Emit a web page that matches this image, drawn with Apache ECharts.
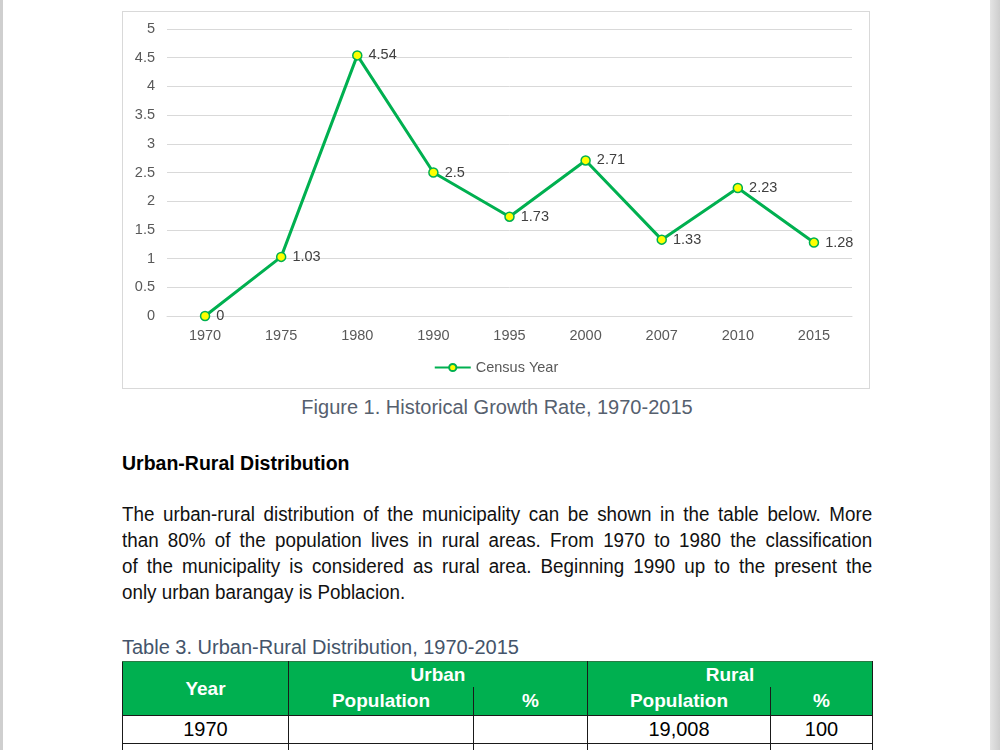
<!DOCTYPE html>
<html>
<head>
<meta charset="utf-8">
<script src="https://cdn.jsdelivr.net/npm/echarts@6/dist/echarts.min.js"></script>
<style>
  html, body { margin: 0; padding: 0; background: #ffffff; }
  body { width: 1000px; height: 750px; position: relative; overflow: hidden; font-family: "Liberation Sans", Arial, sans-serif; }
  .strip-left { position: absolute; left: 0; top: 0; width: 3px; height: 750px; background: #cfcfcf; }
  .strip-right { position: absolute; left: 990px; top: 0; width: 10px; height: 750px; background: linear-gradient(to right, #e4e4e4, #cdcdcd); }
  #box { position: absolute; left: 122px; top: 11px; width: 746px; height: 376px; border: 1px solid #d9d9d9; }
  #chart { position: absolute; left: 0; top: 0; width: 746px; height: 376px; }
  .caption { position: absolute; left: 122px; width: 750px; top: 396px; text-align: center; font-size: 20px; color: #56606e; line-height: 22px; }
  .heading { position: absolute; left: 122px; top: 452px; font-size: 19.5px; font-weight: bold; color: #000; line-height: 22px; }
  .para { position: absolute; left: 122px; top: 501px; width: 798px; font-size: 20px; color: #111; line-height: 26px; transform: scaleX(0.94); transform-origin: left top; }
  .para div { text-align: justify; text-align-last: justify; white-space: nowrap; }
  .para div.last { text-align-last: left; }
  .tcap { position: absolute; left: 122px; top: 636px; font-size: 20px; color: #44546a; line-height: 22px; }
  table { position: absolute; left: 122px; top: 661px; border-collapse: collapse; table-layout: fixed; width: 750px; }
  th, td { padding: 0; text-align: center; font-size: 19px; }
  th { background: #00b050; color: #fff; font-weight: bold; border-left: 1.5px solid #1a1a1a; border-right: 1.5px solid #1a1a1a; }
  td { border: 1.5px solid #1a1a1a; color: #000; height: 27px; font-size: 20px; }
  tr.h1 th { height: 25px; border-top: 1px solid #2a7a45; }
  tr.h2 th { height: 28px; border-bottom: 1.5px solid #1a1a1a; }
  tr.h1 th.grp { border-bottom: none; }
</style>
</head>
<body>
<div class="strip-left"></div>
<div class="strip-right"></div>
<div id="box"><div id="chart"></div></div>
<div class="caption">Figure 1. Historical Growth Rate, 1970-2015</div>
<div class="heading">Urban-Rural Distribution</div>
<div class="para">
  <div>The urban-rural distribution of the municipality can be shown in the table below. More</div>
  <div>than 80% of the population lives in rural areas. From 1970 to 1980 the classification</div>
  <div>of the municipality is considered as rural area. Beginning 1990 up to the present the</div>
  <div class="last">only urban barangay is Poblacion.</div>
</div>
<div class="tcap">Table 3. Urban-Rural Distribution, 1970-2015</div>
<table id="tbl">
  <colgroup><col style="width:166px"><col style="width:185px"><col style="width:114px"><col style="width:183px"><col style="width:102px"></colgroup>
  <tr class="h1"><th rowspan="2" style="border-bottom:1.5px solid #1a1a1a">Year</th><th colspan="2" class="grp">Urban</th><th colspan="2" class="grp">Rural</th></tr>
  <tr class="h2"><th>Population</th><th>%</th><th>Population</th><th>%</th></tr>
</table>
<script>
// Chart data
const years = ['1970', '1975', '1980', '1990', '1995', '2000', '2007', '2010', '2015'];
const growthRate = [0, 1.03, 4.54, 2.5, 1.73, 2.71, 1.33, 2.23, 1.28];
const seriesName = 'Census Year';

// Table data (visible rows)
const tableYears = ['1970', '1975'];
const urbanPop = ['', ''];
const urbanPct = ['', ''];
const ruralPop = ['19,008', '21,005'];
const ruralPct = ['100', '100'];

const tbl = document.getElementById('tbl');
for (let i = 0; i < tableYears.length; i++) {
  const tr = document.createElement('tr');
  [tableYears[i], urbanPop[i], urbanPct[i], ruralPop[i], ruralPct[i]].forEach(v => {
    const td = document.createElement('td');
    td.textContent = v;
    tr.appendChild(td);
  });
  tbl.appendChild(tr);
}

const chart = echarts.init(document.getElementById('chart'), null, { renderer: 'canvas' });
const green = '#00b050';
const txt = '#595959';
const ff = '"Liberation Sans", Arial, sans-serif';
chart.setOption({
  animation: false,
  backgroundColor: '#ffffff',
  textStyle: { fontFamily: ff },
  grid: { left: 44, right: 17, top: 17, bottom: 72, containLabel: false },
  legend: {
    data: [seriesName],
    bottom: 8,
    left: 'center',
    itemWidth: 36,
    itemHeight: 9,
    itemGap: 4,
    textStyle: { color: txt, fontSize: 14.5, fontFamily: ff }
  },
  xAxis: {
    type: 'category',
    data: years,
    boundaryGap: true,
    axisLine: { show: true, lineStyle: { color: '#d9d9d9', width: 1 } },
    axisTick: { show: false },
    axisLabel: { color: txt, fontSize: 14.5, margin: 12, fontFamily: ff }
  },
  yAxis: {
    type: 'value',
    min: 0,
    max: 5,
    interval: 0.5,
    axisLine: { show: false },
    axisTick: { show: false },
    axisLabel: { color: txt, fontSize: 14.5, margin: 12, fontFamily: ff },
    splitLine: { show: true, lineStyle: { color: '#d9d9d9', width: 1 } }
  },
  series: [{
    name: seriesName,
    type: 'line',
    data: growthRate,
    symbol: 'circle',
    symbolSize: 9,
    lineStyle: { color: green, width: 3 },
    itemStyle: { color: '#ffff00', borderColor: green, borderWidth: 1.5 },
    label: {
      show: true,
      position: 'right',
      distance: 6,
      color: '#404040',
      fontSize: 14.5,
      fontFamily: ff
    },
    emphasis: { disabled: true }
  }]
});
</script>
</body>
</html>
